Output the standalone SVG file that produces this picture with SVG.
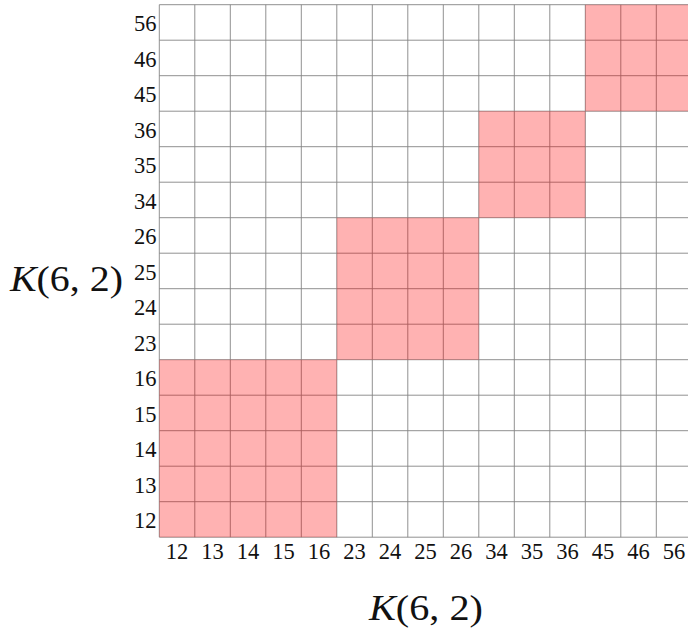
<svg xmlns="http://www.w3.org/2000/svg" width="688" height="628" viewBox="0 0 688 628">
<style>
.g{stroke:#858585;stroke-width:0.9;fill:none}
.b{fill:#ff0000;fill-opacity:0.3;stroke:none}
.l{font-family:"Liberation Serif","DejaVu Serif",serif;font-size:22.5px;fill:#111}
.r{text-anchor:end}
.c{text-anchor:middle}
.k{font-family:"Liberation Serif","DejaVu Serif",serif;font-size:36px;fill:#111}
</style>
<rect x="0" y="0" width="688" height="628" fill="#ffffff"/>
<g id="grid">
<path class="g" d="M159.3,4.7V537.2M194.8,4.7V537.2M230.3,4.7V537.2M265.8,4.7V537.2M301.3,4.7V537.2M336.8,4.7V537.2M372.3,4.7V537.2M407.8,4.7V537.2M443.3,4.7V537.2M478.8,4.7V537.2M514.3,4.7V537.2M549.8,4.7V537.2M585.3,4.7V537.2M620.8,4.7V537.2M656.3,4.7V537.2M691.8,4.7V537.2"/>
<path class="g" d="M159.3,4.7H691.8M159.3,40.2H691.8M159.3,75.7H691.8M159.3,111.2H691.8M159.3,146.7H691.8M159.3,182.2H691.8M159.3,217.7H691.8M159.3,253.2H691.8M159.3,288.7H691.8M159.3,324.2H691.8M159.3,359.7H691.8M159.3,395.2H691.8M159.3,430.7H691.8M159.3,466.2H691.8M159.3,501.7H691.8M159.3,537.2H691.8"/>
</g>
<g id="blocks">
<rect class="b" x="159.3" y="359.7" width="177.5" height="177.5"/>
<rect class="b" x="336.8" y="217.7" width="142" height="142"/>
<rect class="b" x="478.8" y="111.2" width="106.5" height="106.5"/>
<rect class="b" x="585.3" y="4.7" width="106.5" height="106.5"/>
</g>
<g id="row-labels" class="l r">
<text x="156.5" y="31">56</text>
<text x="156.5" y="66.5">46</text>
<text x="156.5" y="102">45</text>
<text x="156.5" y="137.5">36</text>
<text x="156.5" y="173">35</text>
<text x="156.5" y="208.5">34</text>
<text x="156.5" y="244">26</text>
<text x="156.5" y="279.5">25</text>
<text x="156.5" y="315">24</text>
<text x="156.5" y="350.5">23</text>
<text x="156.5" y="386">16</text>
<text x="156.5" y="421.5">15</text>
<text x="156.5" y="457">14</text>
<text x="156.5" y="492.5">13</text>
<text x="156.5" y="528">12</text>
</g>
<g id="col-labels" class="l c">
<text x="177.05" y="558.5">12</text>
<text x="212.55" y="558.5">13</text>
<text x="248.05" y="558.5">14</text>
<text x="283.55" y="558.5">15</text>
<text x="319.05" y="558.5">16</text>
<text x="354.55" y="558.5">23</text>
<text x="390.05" y="558.5">24</text>
<text x="425.55" y="558.5">25</text>
<text x="461.05" y="558.5">26</text>
<text x="496.55" y="558.5">34</text>
<text x="532.05" y="558.5">35</text>
<text x="567.55" y="558.5">36</text>
<text x="603.05" y="558.5">45</text>
<text x="638.55" y="558.5">46</text>
<text x="674.05" y="558.5">56</text>
</g>
<g id="axis-labels" class="k">
<text x="10" y="291" textLength="113" lengthAdjust="spacingAndGlyphs"><tspan font-style="italic">K</tspan>(6, 2)</text>
<text x="369" y="620" textLength="114" lengthAdjust="spacingAndGlyphs"><tspan font-style="italic">K</tspan>(6, 2)</text>
</g>
</svg>
